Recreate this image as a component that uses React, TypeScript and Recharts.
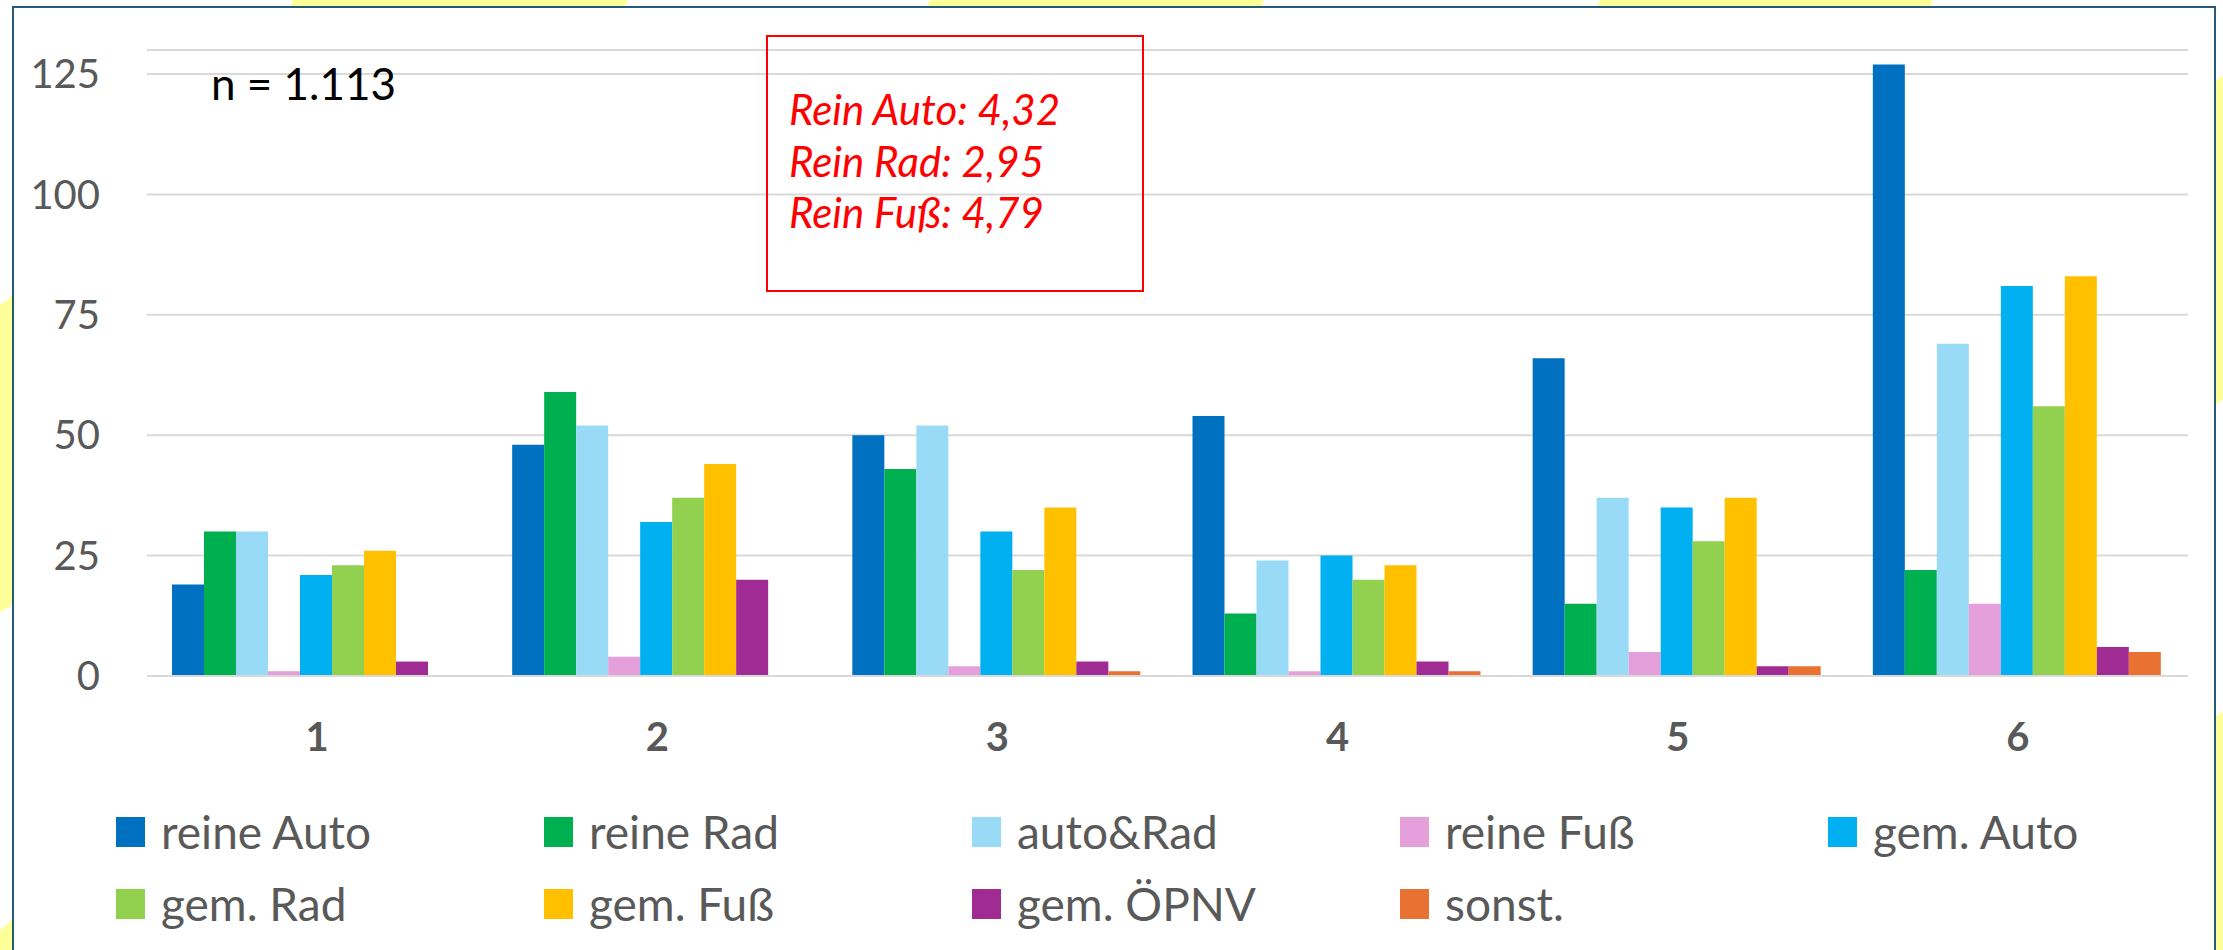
import { BarChart, Bar, XAxis, YAxis, CartesianGrid, Legend } from "recharts";

const CATEGORIES = ["1", "2", "3", "4", "5", "6"];
const REINE_AUTO = [19, 48, 50, 54, 66, 127];
const REINE_RAD = [30, 59, 43, 13, 15, 22];
const AUTO_RAD = [30, 52, 52, 24, 37, 69];
const REINE_FUSS = [1, 4, 2, 1, 5, 15];
const GEM_AUTO = [21, 32, 30, 25, 35, 81];
const GEM_RAD = [23, 37, 22, 20, 28, 56];
const GEM_FUSS = [26, 44, 35, 23, 37, 83];
const GEM_OEPNV = [3, 20, 3, 3, 2, 6];
const SONST = [0, 0, 1, 1, 2, 5];
const Y_TICKS = [0, 25, 50, 75, 100, 125];

const SERIES_KEYS = ["reineAuto", "reineRad", "autoRad", "reineFuss", "gemAuto", "gemRad", "gemFuss", "gemOepnv", "sonst"];
const SERIES_NAMES = ["reine Auto", "reine Rad", "auto&Rad", "reine Fuß", "gem. Auto", "gem. Rad", "gem. Fuß", "gem. ÖPNV", "sonst."];
const SERIES_VALUES = [REINE_AUTO, REINE_RAD, AUTO_RAD, REINE_FUSS, GEM_AUTO, GEM_RAD, GEM_FUSS, GEM_OEPNV, SONST];
const SERIES_COLORS = ["#0070C0", "#00B050", "#99DBF7", "#E5A0DC", "#00B0F0", "#92D050", "#FFC000", "#A02B93", "#E97132"];

const NOTE_LINES = ["Rein Auto: 4,32", "Rein Rad: 2,95", "Rein Fuß: 4,79"];

const data = CATEGORIES.map((cat, i) => {
  const row: Record<string, string | number> = { cat };
  SERIES_KEYS.forEach((k, s) => {
    row[k] = SERIES_VALUES[s][i];
  });
  return row;
});

const FONT = "Lato, 'Open Sans', sans-serif";
const GREY = "#595959";

// background decoration (yellow slide shapes peeking out around the chart)
const DECOR = [
  "293,0 628,0 618,24 283,24",
  "930,0 1264,0 1254,24 920,24",
  "1600,0 1933,0 1923,24 1590,24",
  "0,305 40,275 40,590 0,612",
  "0,930 40,895 40,950 0,950",
  "2195,95 2223,76 2223,400 2195,418",
  "2195,730 2223,712 2223,950 2195,950",
];

function LegendGrid({ payload }: { payload?: Array<{ value: string; color: string }> }) {
  if (!payload) return null;
  // keep the series order (recharts sorts the legend by name otherwise)
  const items = [...payload].sort((a, b) => SERIES_NAMES.indexOf(a.value) - SERIES_NAMES.indexOf(b.value));
  return (
    <div
      style={{
        display: "grid",
        gridTemplateColumns: "repeat(5, 428px)",
        gridAutoRows: "72px",
        fontFamily: FONT,
        fontSize: 46,
        color: GREY,
      }}
    >
      {items.map((p) => (
        <div key={p.value} style={{ display: "flex", alignItems: "center", gap: 16 }}>
          <span style={{ width: 29, height: 30, background: p.color, display: "inline-block", flex: "none" }} />
          <span style={{ lineHeight: 1, whiteSpace: "nowrap" }}>{p.value}</span>
        </div>
      ))}
    </div>
  );
}

export default function App() {
  return (
    <div style={{ position: "absolute", left: 0, top: 0, width: 2223, height: 950, background: "#fff", overflow: "hidden" }}>
      <svg width={2223} height={950} style={{ position: "absolute", left: 0, top: 0 }}>
        {DECOR.map((pts) => (
          <polygon key={pts} points={pts} fill="#FFFF99" />
        ))}
      </svg>
      <div
        style={{
          position: "absolute",
          left: 12,
          top: 6,
          width: 2204,
          height: 1000,
          background: "#fff",
          border: "2px solid #265B78",
          boxSizing: "border-box",
        }}
      />
      <div style={{ position: "absolute", left: 0, top: 0 }}>
        <BarChart
          width={2223}
          height={950}
          data={data}
          margin={{ top: 50, right: 35, bottom: 244, left: 0 }}
          barCategoryGap={25}
          barGap={0}
        >
          <CartesianGrid vertical={false} stroke="#D9D9D9" strokeWidth={2} />
          <XAxis
            dataKey="cat"
            height={30}
            tickLine={false}
            axisLine={{ stroke: "#D9D9D9", strokeWidth: 2 }}
            tickMargin={41}
            tick={{ fontFamily: FONT, fontSize: 40, fontWeight: 700, fill: GREY }}
          />
          <YAxis
            width={147}
            domain={[0, 130]}
            ticks={Y_TICKS}
            allowDataOverflow
            axisLine={false}
            tickLine={false}
            tickMargin={41}
            tick={{ fontFamily: FONT, fontSize: 40, fill: GREY }}
          />
          <Legend
            layout="vertical"
            align="center"
            verticalAlign="middle"
            wrapperStyle={{ left: 116, top: 796, width: 2140 }}
            content={(props: any) => <LegendGrid payload={props.payload} />}
          />
          {SERIES_KEYS.map((k, s) => (
            <Bar key={k} dataKey={k} name={SERIES_NAMES[s]} fill={SERIES_COLORS[s]} isAnimationActive={false} />
          ))}
        </BarChart>
      </div>
      <svg width={2223} height={950} style={{ position: "absolute", left: 0, top: 0, pointerEvents: "none" }}>
        <text x={211} y={100} fontFamily={FONT} fontSize={44} fill="#000">
          n = 1.113
        </text>
        <rect x={767} y={36} width={376} height={255} fill="none" stroke="#FF0000" strokeWidth={2} />
        {NOTE_LINES.map((line, i) => (
          <text key={line} x={789} y={125 + i * 51.5} fontFamily={FONT} fontStyle="italic" fontSize={42} fill="#FF0000">
            {line}
          </text>
        ))}
      </svg>
    </div>
  );
}
